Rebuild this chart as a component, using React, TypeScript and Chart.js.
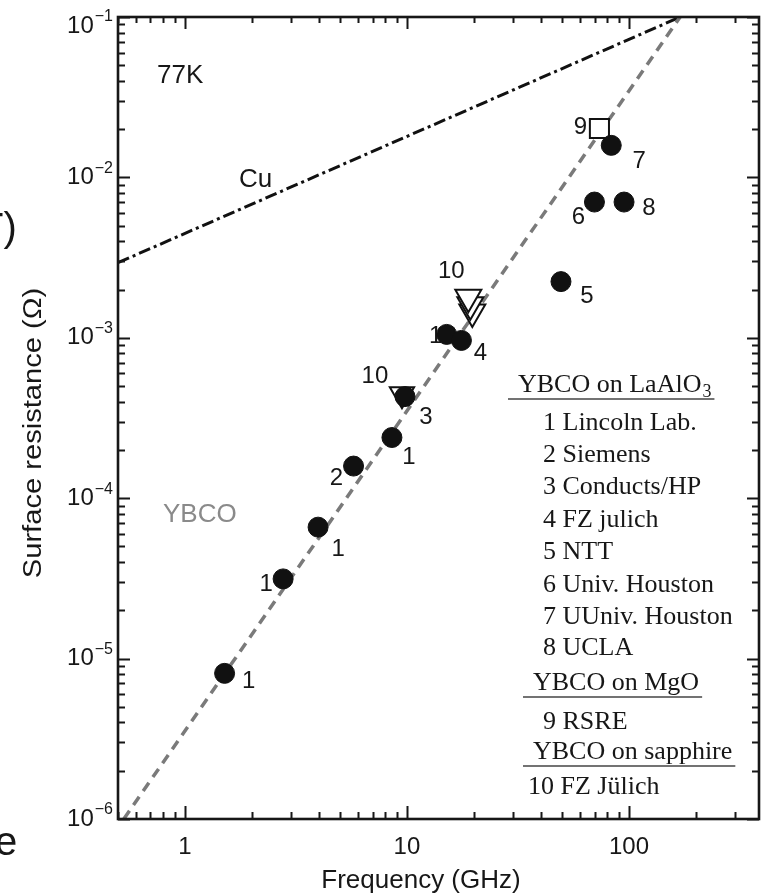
import React, { useEffect, useRef } from 'react';
import { Chart, registerables } from 'chart.js';

Chart.register(...registerables);

// ---------------- data ----------------
// filled circles: YBCO on LaAlO3 (numbers = source tags)
const circleFreqGHz = [1.51, 2.77, 3.98, 5.75, 8.56, 9.8, 15.1, 17.6, 49.4, 69.9, 95.0, 83.2];
const circleRsOhm = [8.09e-6, 3.14e-5, 6.6e-5, 1.586e-4, 2.39e-4, 4.3e-4, 1.05e-3, 9.63e-4, 2.24e-3, 7.02e-3, 7.02e-3, 1.584e-2];
const circleTags = ['1', '1', '1', '2', '1', '3', '1', '4', '5', '6', '8', '7'];

// open square: YBCO on MgO
const squareFreqGHz = [73.6];
const squareRsOhm = [2.02e-2];
const squareTags = ['9'];

// open down-triangles: YBCO on sapphire
const sapphireFreqGHz = [9.5, 19.7, 19.3, 18.9];
const sapphireRsOhm = [4.45e-4, 1.45e-3, 1.61e-3, 1.79e-3];
const sapphireTags = ['10', '', '', '10'];

// reference lines
const ybcoLineFreqGHz = [0.531, 170];
const ybcoLineRsOhm = [1e-6, 1e-1];
const cuLineFreqGHz = [0.5, 170];
const cuLineRsOhm = [2.94e-3, 1e-1];

// axes
const xMinGHz = 0.5;
const xMaxGHz = 385;
const yMinOhm = 1e-6;
const yMaxOhm = 1e-1;
const xTickLabels = [1, 10, 100];
const yTickExponents = [-1, -2, -3, -4, -5, -6];

const xTitle = 'Frequency (GHz)';
const yTitle = 'Surface resistance (\u03A9)';
const tempLabel = '77K';
const cuLabel = 'Cu';
const ybcoLabel = 'YBCO';

const legendLines = [
  'YBCO on LaAlO',
  '1 Lincoln Lab.',
  '2 Siemens',
  '3 Conducts/HP',
  '4 FZ julich',
  '5 NTT',
  '6 Univ. Houston',
  '7 UUniv. Houston',
  '8 UCLA',
  'YBCO on MgO',
  '9 RSRE',
  'YBCO on sapphire',
  '10 FZ J\u00FClich',
];
const legendHeaderIdx = [0, 9, 11];
const legendSubscript = { 0: '3' } as Record<number, string>;

// ---------------- style / layout ----------------
const SANS = '"Liberation Sans", Arial, Helvetica, sans-serif';
const SERIF = '"Liberation Serif", "Times New Roman", serif';
const INK = '#171717';

const circleTagOffsets = [[24, 8], [-17, 5], [20, 22], [-17, 12], [17, 20], [21, 21], [-11, 2], [19, 13], [26, 15], [-16, 15], [25, 6], [28, 16]];
const squareTagOffsets = [[-19, -1]];
const sapphireTagOffsets = [[-27, -18], [0, 0], [0, 0], [-17, -26]];

const legendX = [518, 543, 543, 543, 543, 543, 543, 543, 543, 533, 543, 533, 528];
const legendY = [385, 423, 455, 487, 520, 552, 585, 617, 648, 683, 722, 752, 787];

function logTicks(min: number, max: number) {
  const out: { v: number; major: boolean }[] = [];
  for (let e = Math.floor(Math.log10(min)) - 1; e <= Math.ceil(Math.log10(max)); e++) {
    for (let m = 1; m <= 9; m++) {
      const v = m * Math.pow(10, e);
      if (v >= min * 0.9999 && v <= max * 1.0001) out.push({ v, major: m === 1 });
    }
  }
  return out;
}

const tagsPlugin = {
  id: 'tags',
  beforeDatasetsDraw(chart: any) {
    const ctx = chart.ctx;
    const xs = chart.scales.x;
    const ys = chart.scales.y;
    ctx.save();
    ctx.fillStyle = INK;
    ctx.font = `24px ${SANS}`;
    ctx.textAlign = 'center';
    ctx.textBaseline = 'middle';
    const put = (f: number[], r: number[], t: string[], off: number[][]) => {
      for (let i = 0; i < f.length; i++) {
        if (!t[i]) continue;
        const px = xs.getPixelForValue(f[i]) + off[i][0];
        const py = ys.getPixelForValue(r[i]) + off[i][1];
        ctx.fillText(t[i], px, py);
      }
    };
    put(circleFreqGHz, circleRsOhm, circleTags, circleTagOffsets);
    put(squareFreqGHz, squareRsOhm, squareTags, squareTagOffsets);
    put(sapphireFreqGHz, sapphireRsOhm, sapphireTags, sapphireTagOffsets);
    ctx.restore();
  },
};

const framePlugin = {
  id: 'frame',
  afterDatasetsDraw(chart: any) {
    const ctx = chart.ctx;
    const xs = chart.scales.x;
    const ys = chart.scales.y;
    const { left, right, top, bottom } = chart.chartArea;
    ctx.save();
    ctx.strokeStyle = INK;
    ctx.lineCap = 'butt';
    ctx.lineWidth = 2;
    // x ticks (bottom and top, inward)
    for (const t of logTicks(xs.min, xs.max)) {
      const px = Math.round(xs.getPixelForValue(t.v)) + 0.5;
      const lb = t.major ? 13 : 7;
      const lt = t.major ? 12 : 6;
      ctx.beginPath();
      ctx.moveTo(px, bottom);
      ctx.lineTo(px, bottom - lb);
      ctx.moveTo(px, top);
      ctx.lineTo(px, top + lt);
      ctx.stroke();
    }
    // y ticks (left and right, inward)
    for (const t of logTicks(ys.min, ys.max)) {
      const py = Math.round(ys.getPixelForValue(t.v)) + 0.5;
      const len = t.major ? 12 : 7;
      ctx.beginPath();
      ctx.moveTo(left, py);
      ctx.lineTo(left + len, py);
      ctx.moveTo(right, py);
      ctx.lineTo(right - len, py);
      ctx.stroke();
    }
    ctx.lineWidth = 2.6;
    ctx.strokeRect(left, top, right - left, bottom - top);

    // y tick labels with superscripts
    ctx.fillStyle = INK;
    ctx.textBaseline = 'middle';
    ctx.textAlign = 'right';
    for (const e of yTickExponents) {
      let py = ys.getPixelForValue(Math.pow(10, e));
      py = Math.max(py, top + 9);
      const sup = '\u2212' + Math.abs(e);
      ctx.font = `16px ${SANS}`;
      const sw = ctx.measureText(sup).width;
      const rEdge = left - 5;
      ctx.fillText(sup, rEdge, py - 9);
      ctx.font = `24px ${SANS}`;
      ctx.fillText('10', rEdge - sw - 1, py);
    }
    // x tick labels
    ctx.textAlign = 'center';
    ctx.font = `24px ${SANS}`;
    for (const v of xTickLabels) {
      ctx.fillText(String(v), xs.getPixelForValue(v), bottom + 28);
    }
    // axis titles
    ctx.font = `26px ${SANS}`;
    ctx.fillText(xTitle, 421, bottom + 62);
    ctx.save();
    ctx.translate(34, 433);
    ctx.rotate(-Math.PI / 2);
    ctx.scale(1.12, 1);
    ctx.fillText(yTitle, 0, 0);
    ctx.restore();

    // annotations
    ctx.textAlign = 'left';
    ctx.font = `26px ${SANS}`;
    ctx.fillText(tempLabel, 157, 76);
    ctx.fillText(cuLabel, 239, 180);
    ctx.fillStyle = '#8a8a8a';
    ctx.fillText(ybcoLabel, 163, 515);

    // cropped fragments at the page margin
    ctx.fillStyle = INK;
    ctx.font = `40px ${SANS}`;
    ctx.textBaseline = 'alphabetic';
    ctx.fillText('T)', -21, 241);
    ctx.fillText('e', -5, 855);

    // legend
    ctx.textBaseline = 'middle';
    ctx.fillStyle = INK;
    for (let i = 0; i < legendLines.length; i++) {
      ctx.font = `26px ${SERIF}`;
      const x = legendX[i];
      const y = legendY[i];
      ctx.fillText(legendLines[i], x, y);
      let w = ctx.measureText(legendLines[i]).width;
      const sub = legendSubscript[i];
      if (sub) {
        ctx.font = `18px ${SERIF}`;
        ctx.fillText(sub, x + w + 1, y + 7);
        w += ctx.measureText(sub).width + 1;
      }
      if (legendHeaderIdx.includes(i)) {
        ctx.strokeStyle = '#444';
        ctx.lineWidth = 1.5;
        ctx.beginPath();
        ctx.moveTo(x - 10, y + 14);
        ctx.lineTo(x + w + 3, y + 14);
        ctx.stroke();
      }
    }
    ctx.restore();
  },
};

function pts(f: number[], r: number[]) {
  return f.map((v, i) => ({ x: v, y: r[i] }));
}

export default function App() {
  const ref = useRef<HTMLCanvasElement | null>(null);
  useEffect(() => {
    if (!ref.current) return;
    const chart = new Chart(ref.current, {
      type: 'scatter',
      data: {
        datasets: [
          {
            label: 'YBCO on LaAlO3',
            data: pts(circleFreqGHz, circleRsOhm),
            pointStyle: 'circle',
            pointRadius: 10,
            borderWidth: 1,
            backgroundColor: '#111',
            borderColor: '#111',
            order: 1,
          } as any,
          {
            label: 'YBCO on MgO',
            data: pts(squareFreqGHz, squareRsOhm),
            pointStyle: 'rect',
            pointRadius: 13.5,
            borderWidth: 2,
            backgroundColor: '#fff',
            borderColor: '#111',
            order: 2,
          },
          {
            label: 'YBCO on sapphire',
            data: pts(sapphireFreqGHz, sapphireRsOhm),
            pointStyle: 'triangle',
            rotation: 180,
            pointRadius: [14, 15, 15, 15],
            borderWidth: 2,
            backgroundColor: '#fff',
            borderColor: '#111',
            order: 3,
          },
          {
            label: 'YBCO',
            data: pts(ybcoLineFreqGHz, ybcoLineRsOhm),
            showLine: true,
            pointRadius: 0,
            borderColor: '#7a7a7a',
            borderWidth: 3.5,
            borderDash: [10, 7],
            order: 5,
          },
          {
            label: 'Cu',
            data: pts(cuLineFreqGHz, cuLineRsOhm),
            showLine: true,
            pointRadius: 0,
            borderColor: '#111',
            borderWidth: 3,
            borderDash: [12, 4, 3, 4],
            order: 6,
          },
        ],
      },
      options: {
        animation: false,
        responsive: false,
        devicePixelRatio: 1,
        events: [],
        layout: { padding: { top: 13, right: 5, left: 0, bottom: 0 } },
        plugins: { legend: { display: false }, tooltip: { enabled: false }, title: { display: false } },
        scales: {
          x: {
            type: 'logarithmic',
            min: xMinGHz,
            max: xMaxGHz,
            grid: { display: false },
            border: { display: false },
            ticks: { display: false },
            afterFit: (s: any) => { s.height = 75; },
          },
          y: {
            type: 'logarithmic',
            min: yMinOhm,
            max: yMaxOhm,
            grid: { display: false },
            border: { display: false },
            ticks: { display: false },
            afterFit: (s: any) => { s.width = 118; },
          },
        },
      },
      plugins: [tagsPlugin, framePlugin],
    } as any);
    return () => chart.destroy();
  }, []);
  return (
    <div style={{ position: 'absolute', left: 0, top: 0, width: 776, height: 894, background: '#fff' }}>
      <canvas ref={ref} width={776} height={894} style={{ display: 'block' }} />
    </div>
  );
}
